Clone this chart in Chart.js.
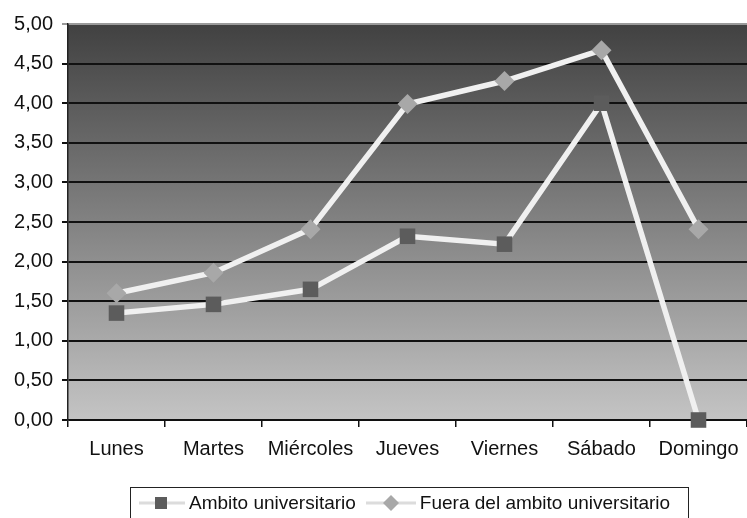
<!DOCTYPE html>
<html>
<head>
<meta charset="utf-8">
<script src="https://cdn.jsdelivr.net/npm/chart.js@4/dist/chart.umd.min.js"></script>
<style>
  body { margin: 0; background: #fff; }
  #wrap { position: relative; width: 747px; height: 518px; overflow: hidden; }
  #legend {
    position: absolute; left: 130px; top: 487px; width: 559px; height: 40px;
    border: 1.5px solid #222; box-sizing: border-box;
    font-family: 'Liberation Sans', Arial, sans-serif; font-size: 19px; color: #111;
    display: flex; align-items: flex-start; padding-top: 4px; padding-left: 8px;
  }
  #legend span.item { display: flex; align-items: center; margin-right: 10px; }
  #legend svg { margin-right: 4px; }
</style>
</head>
<body>
<div id="wrap">
  <canvas id="lineChart" width="747" height="518"></canvas>
  <div id="legend">
    <span class="item">
      <svg width="46" height="22"><line x1="0" y1="11" x2="46" y2="11" stroke="#dcdcdc" stroke-width="3"/><rect x="16" y="5" width="12" height="12" fill="#5c5c5c"/></svg>
      Ambito universitario
    </span>
    <span class="item">
      <svg width="50" height="22"><line x1="0" y1="11" x2="50" y2="11" stroke="#dcdcdc" stroke-width="3"/><polygon points="25,3 33,11 25,19 17,11" fill="#a8a8a8"/></svg>
      Fuera del ambito universitario
    </span>
  </div>
</div>
<script>
// Días de la semana y promedios
const dias = ['Lunes', 'Martes', 'Miércoles', 'Jueves', 'Viernes', 'Sábado', 'Domingo'];
const ambitoUniversitario = [1.35, 1.46, 1.65, 2.32, 2.22, 4.00, 0.00];
const fueraAmbito = [1.60, 1.86, 2.41, 3.99, 4.28, 4.67, 2.41];
const yTicks = [0, 0.5, 1, 1.5, 2, 2.5, 3, 3.5, 4, 4.5, 5];

const fontFamily = "'Liberation Sans', Arial, sans-serif";

// gradient background inside the plot area
const plotBackground = {
    id: 'plotBackground',
    beforeDraw(chart) {
        const { ctx, chartArea: a } = chart;
        const g = ctx.createLinearGradient(0, a.top, 0, a.bottom);
        g.addColorStop(0, '#414141');
        g.addColorStop(0.5, '#828282');
        g.addColorStop(1, '#c4c4c4');
        ctx.save();
        ctx.fillStyle = g;
        ctx.fillRect(a.left, a.top, a.right - a.left, a.bottom - a.top);
        ctx.restore();
    }
};

const ctx = document.getElementById('lineChart').getContext('2d');

new Chart(ctx, {
    type: 'line',
    data: {
        labels: dias,
        datasets: [{
            label: 'Ambito universitario',
            data: ambitoUniversitario,
            borderColor: '#f0f0f0',
            borderWidth: 5.5,
            pointStyle: 'rect',
            pointRadius: 11,
            pointBackgroundColor: '#5c5c5c',
            pointBorderWidth: 0,
            tension: 0,
            clip: false
        }, {
            label: 'Fuera del ambito universitario',
            data: fueraAmbito,
            borderColor: '#f0f0f0',
            borderWidth: 5.5,
            pointStyle: 'rectRot',
            pointRadius: 10,
            pointBackgroundColor: '#a8a8a8',
            pointBorderWidth: 0,
            tension: 0,
            clip: false
        }]
    },
    options: {
        responsive: false,
        animation: false,
        layout: { autoPadding: false, padding: { top: 24, right: 0, bottom: 0, left: 0 } },
        plugins: {
            legend: { display: false },
            tooltip: { enabled: false }
        },
        scales: {
            x: {
                offset: true,
                afterFit(scale) {
                    scale.height = 98;
                    scale.paddingLeft = 0;
                    scale.paddingRight = 0;
                },
                grid: {
                    offset: true,
                    drawOnChartArea: false,
                    color: '#111',
                    lineWidth: 1.5,
                    tickLength: 7
                },
                border: { color: '#111', width: 1.5 },
                ticks: {
                    color: '#111',
                    padding: 10,
                    maxRotation: 0,
                    font: { size: 20, family: fontFamily }
                }
            },
            y: {
                min: 0,
                max: 5,
                afterFit(scale) { scale.width = 68; },
                afterBuildTicks(scale) { scale.ticks = yTicks.map(v => ({ value: v })); },
                grid: {
                    color: ctx => ctx.tick && ctx.tick.value === 5 ? '#9a9a9a' : '#111',
                    lineWidth: 2,
                    tickLength: 6
                },
                border: { color: '#222', width: 1.5 },
                ticks: {
                    color: '#111',
                    padding: 9,
                    font: { size: 20, family: fontFamily },
                    callback: v => v.toFixed(2).replace('.', ',')
                }
            }
        }
    },
    plugins: [plotBackground]
});
</script>
</body>
</html>
